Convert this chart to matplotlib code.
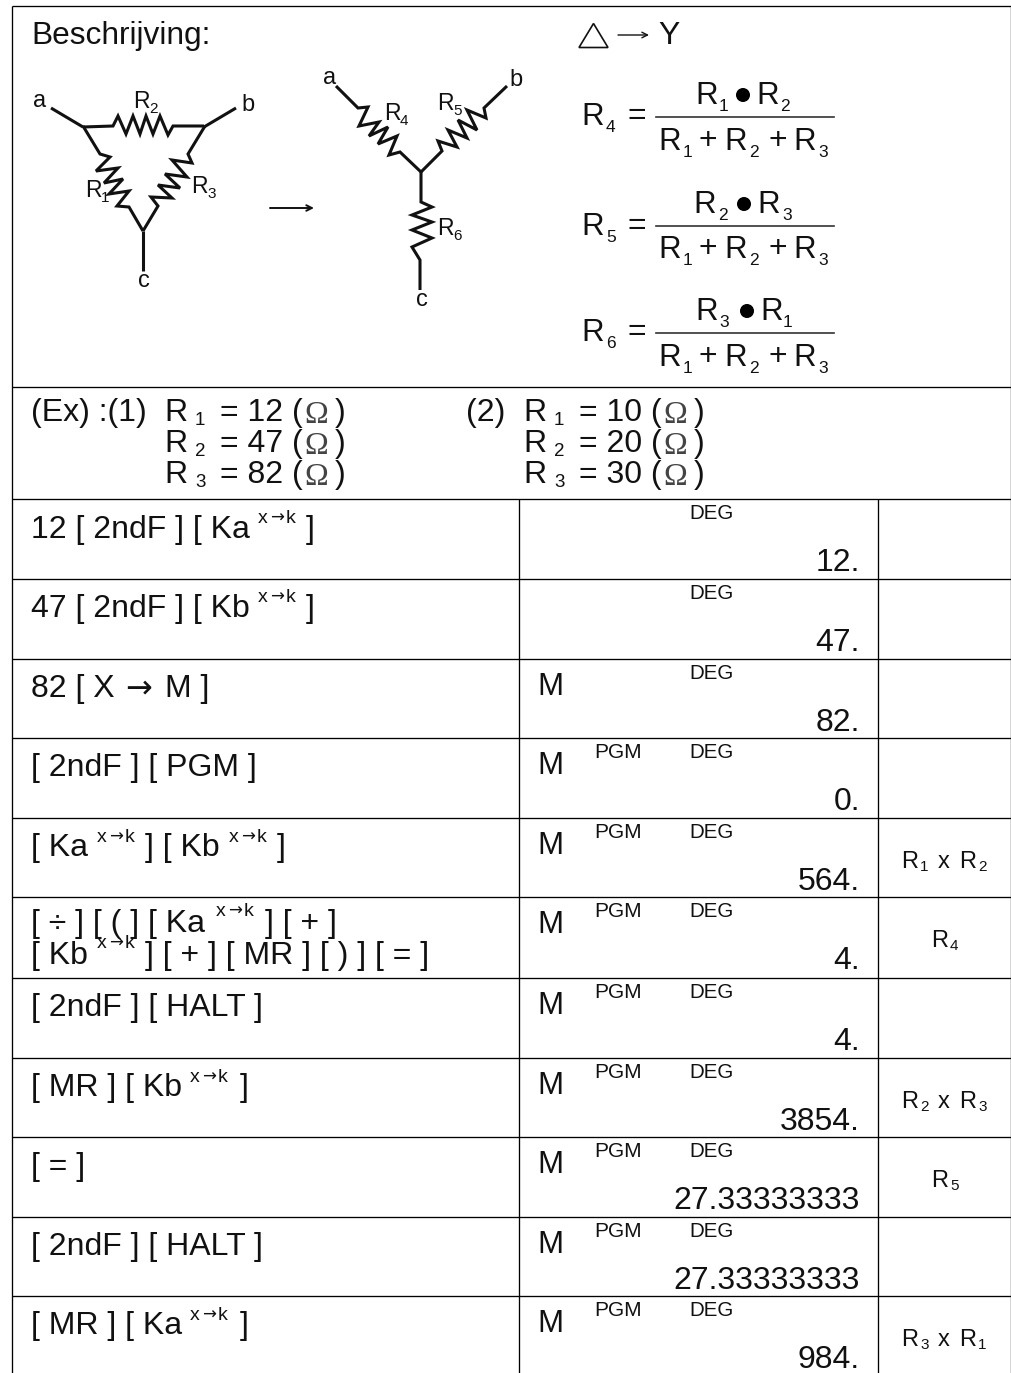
import matplotlib
matplotlib.use('Agg')
import matplotlib.pyplot as plt
from matplotlib.patches import Circle, Polygon

plt.rcParams['font.family'] = ['Liberation Sans', 'DejaVu Sans']

INK = '#111111'

# table rows
row_tops = [499, 579, 659, 738, 818, 897, 978, 1058, 1137, 1217, 1296]
row_m = [0, 0, 1, 1, 1, 1, 1, 1, 1, 1, 1]
row_pgm = [0, 0, 0, 1, 1, 1, 1, 1, 1, 1, 1]
row_values = ['12.', '47.', '82.', '0.', '564.', '4.', '4.', '3854.', '27.33333333', '27.33333333', '984.']
# key text: (x, offset from row top, text), sup marks the x->k bit, arrow the big arrow
row_keys = [
    [(31, 39, '12 [ 2ndF ] [ Ka'), (258, 24, 'sup'), (306, 39, ']')],
    [(31, 38, '47 [ 2ndF ] [ Kb'), (258, 23, 'sup'), (306, 38, ']')],
    [(31, 38, '82 [ X'), (125, 38, 'arrow'), (165, 38, 'M ]')],
    [(31, 38, '[ 2ndF ] [ PGM ]')],
    [(31, 38, '[ Ka'), (97, 24, 'sup'), (145, 38, '] [ Kb'), (229, 24, 'sup'), (277, 38, ']')],
    [(31, 35, '[ \u00f7 ] [ ( ] [ Ka'), (216, 19, 'sup'), (265, 35, '] [ + ]'),
     (31, 67, '[ Kb'), (97, 51, 'sup'), (145, 67, '] [ + ] [ MR ] [ ) ] [ = ]')],
    [(31, 38, '[ 2ndF ] [ HALT ]')],
    [(31, 38, '[ MR ] [ Kb'), (190, 24, 'sup'), (240, 38, ']')],
    [(31, 38, '[ = ]')],
    [(31, 38, '[ 2ndF ] [ HALT ]')],
    [(31, 38, '[ MR ] [ Ka'), (190, 24, 'sup'), (240, 38, ']')],
]
# last column: row, pieces of (x, text, is_sub)
row_notes = {
    4: [(901, 'R', 0), (920, '1', 1), (938, 'x', 0), (959, 'R', 0), (978, '2', 1)],
    5: [(931, 'R', 0), (950, '4', 1)],
    7: [(901, 'R', 0), (920, '2', 1), (938, 'x', 0), (959, 'R', 0), (978, '3', 1)],
    8: [(931, 'R', 0), (950, '5', 1)],
    10: [(901, 'R', 0), (920, '3', 1), (938, 'x', 0), (959, 'R', 0), (978, '1', 1)],
}

ex_baselines = [421, 452, 483]
ex_left = ['12', '47', '82']
ex_right = ['10', '20', '30']

# circuit lines, picture pixels
delta_top = [(83, 127), (113, 126), (118, 116), (126, 134), (133, 116), (140, 134), (146, 116), (153, 134), (160, 116), (168, 135), (173, 126), (204, 126)]
delta_left = [(83, 126), (100, 154), (110, 157), (96, 171), (118, 168), (104, 183), (123, 179), (109, 194), (129, 191), (117, 206), (129, 207), (143, 231)]
delta_right = [(205, 126), (188, 154), (192, 163), (172, 160), (187, 177), (165, 174), (180, 188), (158, 185), (172, 198), (151, 197), (158, 206), (143, 231)]
delta_leads = [[(51, 108), (83, 127)], [(204, 127), (236, 108)], [(143, 231), (143, 271)]]
wye_left = [(336, 86), (358, 108), (368, 107), (359, 126), (379, 122), (369, 136), (388, 127), (378, 144), (397, 136), (389, 155), (400, 152), (421, 172)]
wye_right = [(421, 172), (442, 151), (438, 141), (457, 147), (448, 130), (467, 138), (458, 120), (477, 130), (467, 110), (486, 118), (484, 108), (507, 86)]
wye_stem = [(421, 172), (421, 202), (432, 207), (412, 215), (432, 222), (412, 230), (432, 238), (412, 247), (420, 260), (420, 290)]

# fractions
frac_names = ['4', '5', '6']
frac_subs = [('1', '2'), ('2', '3'), ('3', '1')]
frac_lhs_base = [125, 235, 341]
frac_line_y = [117, 226, 333]
frac_num_base = [104, 213, 320]
frac_den_base = [150, 258, 366]
frac_num_x = [(695, 719, 743, 756, 780), (693, 718, 744, 757, 782), (695, 719, 747, 760, 783)]

fig = plt.figure(figsize=(10.12, 13.73), dpi=100)
ax = fig.add_axes([0, 0, 1, 1])
ax.set_xlim(0, 1012)
ax.set_ylim(1373, 0)
ax.axis('off')


def txt(x, y, s, size=23, **kw):
    kw.setdefault('color', INK)
    kw.setdefault('va', 'baseline')
    ax.text(x, y, s, fontsize=size, **kw)


def rsub(x, y, sub, size=22.5, subsize=12.5, dx=25, dy=7):
    txt(x, y, 'R', size)
    txt(x + dx, y + dy, sub, subsize)


def grid(xs, ys):
    ax.plot(xs, ys, color='black', lw=0.95, solid_capstyle='butt')


# frame
grid([12, 1011], [6, 6])
grid([12, 12], [6, 1373])
grid([1011, 1011], [6, 1373])
grid([12, 1011], [387, 387])
for y in row_tops:
    grid([12, 1011], [y, y])
grid([519.5, 519.5], [499, 1373])
grid([878, 878], [499, 1373])

# heading
txt(31, 44, 'Beschrijving:', 22.8)
ax.add_patch(Polygon([(579, 47.5), (593.5, 23.5), (608, 47.5)], closed=True, fill=False, ec=INK, lw=1.2))
ax.annotate('', xy=(649, 35), xytext=(618, 35), arrowprops=dict(arrowstyle='->', color=INK, lw=1.0, mutation_scale=10, shrinkA=0, shrinkB=0))
txt(658, 44, 'Y', 23)

# circuits
for line in [delta_top, delta_left, delta_right, wye_left, wye_right, wye_stem] + delta_leads:
    ax.plot([p[0] for p in line], [p[1] for p in line], color=INK, lw=2.2, solid_joinstyle='miter', solid_capstyle='butt')
ax.annotate('', xy=(314, 208), xytext=(270, 208), arrowprops=dict(arrowstyle='->', color=INK, lw=1.4, mutation_scale=10, shrinkA=0, shrinkB=0))

for x, y, s in [(33, 107, 'a'), (241, 111, 'b'), (138, 287, 'c'), (323, 84, 'a'), (509, 86, 'b'), (416, 306, 'c')]:
    txt(x, y, s, 17)
for x, y, s in [(133, 108, '2'), (85, 197, '1'), (191, 193, '3'), (384, 120, '4'), (437, 110, '5'), (437, 235, '6')]:
    rsub(x, y, s, size=16.5, subsize=11, dx=16, dy=5)

# formulas
for i in range(3):
    rsub(581, frac_lhs_base[i], frac_names[i])
    txt(637, frac_lhs_base[i] - 1, '=', 23, ha='center')
    ax.plot([656, 834], [frac_line_y[i]] * 2, color='#333333', lw=1.2)
    x1, xs1, xd, x2, xs2 = frac_num_x[i]
    txt(x1, frac_num_base[i], 'R', 22.5)
    txt(xs1, frac_num_base[i] + 7, frac_subs[i][0], 12.5)
    ax.add_patch(Circle((xd, frac_num_base[i] - 9), 6.3, color='black'))
    txt(x2, frac_num_base[i], 'R', 22.5)
    txt(xs2, frac_num_base[i] + 7, frac_subs[i][1], 12.5)
    d = frac_den_base[i]
    rsub(658, d, '1')
    txt(708, d - 1, '+', 23, ha='center')
    rsub(724, d, '2')
    txt(778, d - 1, '+', 23, ha='center')
    rsub(793, d, '3')

# example block
txt(31, 421, '(Ex) :(1)')
txt(466, 421, '(2)')
for i in range(3):
    y = ex_baselines[i]
    for x0, val in [(164, ex_left[i]), (523, ex_right[i])]:
        rsub(x0, y, str(i + 1), size=23, subsize=13.5, dx=31, dy=4)
        txt(x0 + 56, y, '= ' + val + ' (')
        txt(x0 + 140, y + 2, '\u03a9', 23, color='#444444', family=['Liberation Serif'])
        txt(x0 + 171, y, ')')

# table
for i, top in enumerate(row_tops):
    for x, dy, s in row_keys[i]:
        y = top + dy
        if s == 'sup':
            txt(x, y, 'x', 14)
            txt(x + 12, y, '\u2192', 12, family=['DejaVu Sans'])
            txt(x + 28, y, 'k', 14)
        elif s == 'arrow':
            txt(x, y, '\u2192', 23, family=['DejaVu Sans'])
        else:
            txt(x, y, s)
    if row_m[i]:
        txt(537.5, top + 36, 'M', 22.5)
    if row_pgm[i]:
        txt(594, top + 20, 'PGM', 15)
    txt(689, top + 20, 'DEG', 14.8)
    txt(860, top + 72, row_values[i], ha='right')
    if i in row_notes:
        for x, s, is_sub in row_notes[i]:
            if is_sub:
                txt(x, top + 53, s, 11)
            else:
                txt(x, top + 50, s, 17)

fig.savefig('out.png', dpi=100)
